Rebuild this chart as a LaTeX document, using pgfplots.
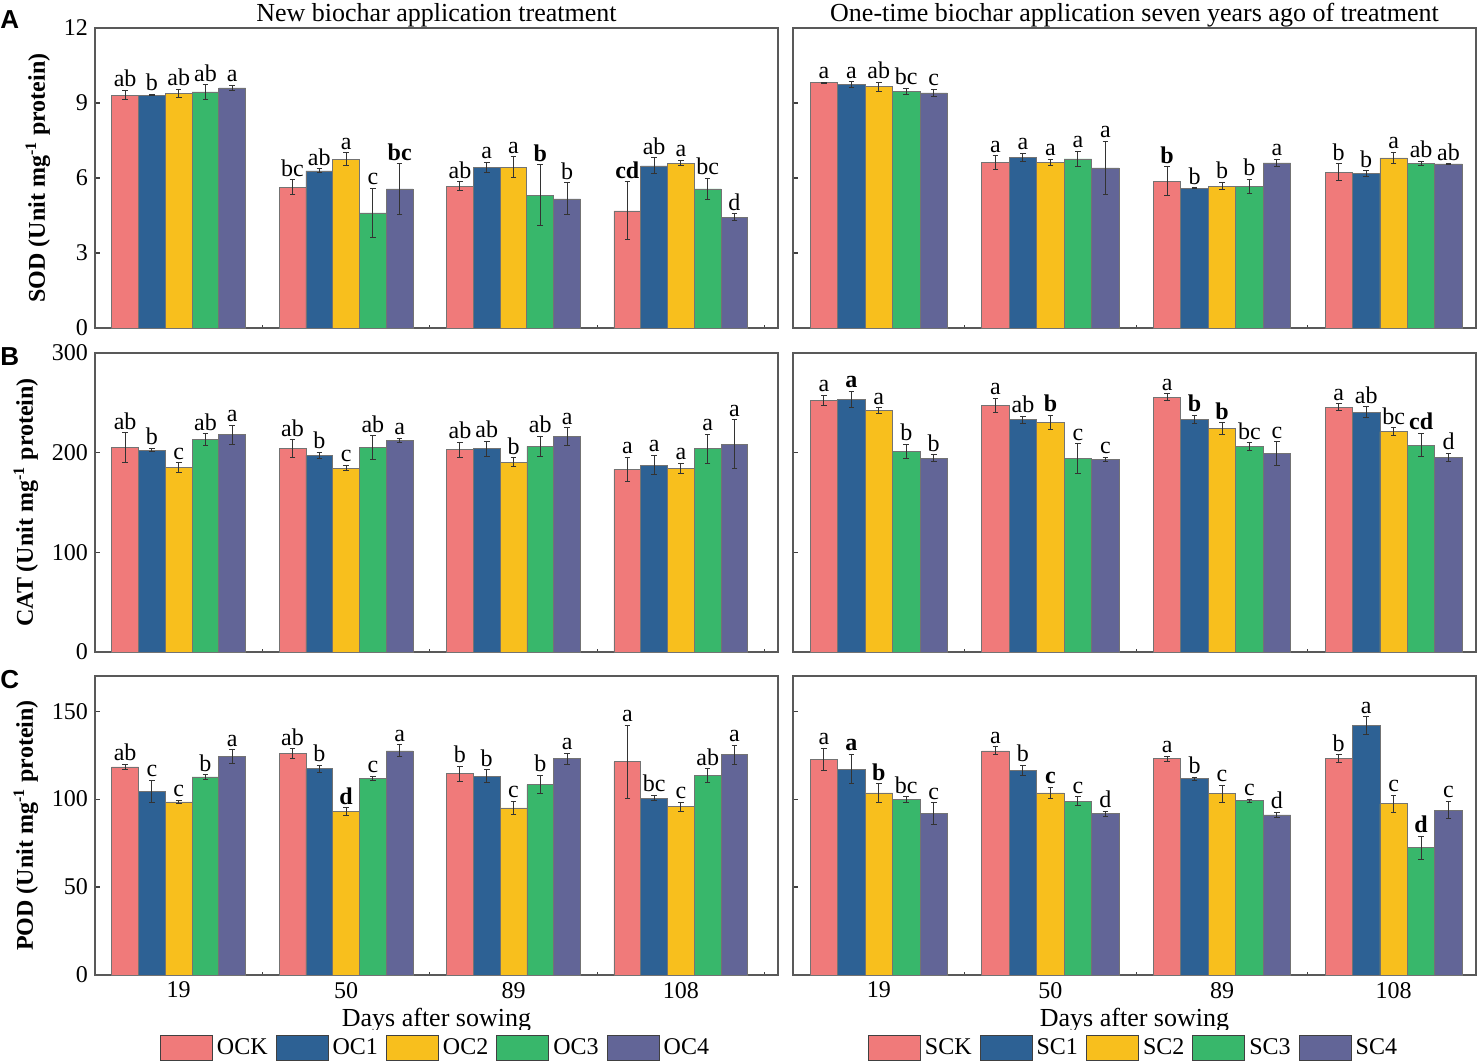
\documentclass[border=0pt]{standalone}
\usepackage{fontspec}
\setmainfont{Liberation Serif}
\newfontfamily\panelfont{Liberation Sans}
\usepackage{pgfplots}
\usepackage{pgfplotstable}
\pgfplotsset{compat=1.18}

\definecolor{c0}{RGB}{240,122,122}
\definecolor{c1}{RGB}{45,97,148}
\definecolor{c2}{RGB}{248,191,29}
\definecolor{c3}{RGB}{56,183,107}
\definecolor{c4}{RGB}{98,101,151}

% SOD, new biochar
\pgfplotstableread{
g y0 e0 l0 y1 e1 l1 y2 e2 l2 y3 e3 l3 y4 e4 l4
0 9.31 0.19 ab 9.31 0.03 b 9.37 0.17 ab 9.44 0.29 ab 9.60 0.11 a
1 5.63 0.29 bc 6.28 0.08 ab 6.75 0.25 a 4.60 0.99 c 5.56 1.01 \textbf{bc}
2 5.67 0.17 ab 6.43 0.20 a 6.43 0.42 a 5.31 1.21 \textbf{b} 5.16 0.64 b
3 4.68 1.16 \textbf{cd} 6.48 0.32 ab 6.59 0.11 a 5.56 0.43 bc 4.43 0.13 d
}\tA
% SOD, seven years ago
\pgfplotstableread{
g y0 e0 l0 y1 e1 l1 y2 e2 l2 y3 e3 l3 y4 e4 l4
0 9.81 0.02 a 9.73 0.11 a 9.65 0.18 ab 9.45 0.13 bc 9.40 0.14 c
1 6.61 0.27 a 6.83 0.16 a 6.61 0.13 a 6.76 0.30 a 6.40 1.07 a
2 5.87 0.57 \textbf{b} 5.59 0.02 b 5.67 0.15 b 5.65 0.29 b 6.60 0.14 a
3 6.23 0.34 b 6.17 0.11 b 6.80 0.23 a 6.59 0.08 ab 6.56 0.01 ab
}\tB
% CAT, new biochar
\pgfplotstableread{
g y0 e0 l0 y1 e1 l1 y2 e2 l2 y3 e3 l3 y4 e4 l4
0 205.2 14.7 ab 202.5 1.7 b 185.2 4.7 c 213.2 5.8 ab 217.9 9.7 a
1 204.2 8.7 ab 197.2 3.3 b 184.5 2.7 c 205.2 11.7 ab 212.2 2.3 a
2 202.9 7.7 ab 203.9 7.7 ab 190.5 4.5 b 206.2 10.0 ab 216.2 8.7 a
3 183.2 12.2 a 187.5 9.7 a 184.2 5.2 a 203.9 14.7 a 208.5 24.5 a
}\tC
% CAT, seven years ago
\pgfplotstableread{
g y0 e0 l0 y1 e1 l1 y2 e2 l2 y3 e3 l3 y4 e4 l4
0 252.3 5.3 a 253.3 8.2 \textbf{a} 242.2 2.8 a 201.2 7.0 b 194.2 3.5 b
1 247.2 7.2 a 233.2 3.5 ab 230.2 7.0 \textbf{b} 194.2 14.7 c 193.2 2.3 c
2 255.6 3.5 a 233.2 4.0 \textbf{b} 224.2 5.8 \textbf{b} 206.2 3.7 bc 199.2 11.7 c
3 245.6 3.5 a 240.6 5.3 ab 221.2 3.7 bc 207.5 11.7 \textbf{cd} 195.2 4.2 d
}\tD
% POD, new biochar
\pgfplotstableread{
g y0 e0 l0 y1 e1 l1 y2 e2 l2 y3 e3 l3 y4 e4 l4
0 118.3 1.5 ab 104.3 6.5 c 98.4 0.9 c 112.6 1.3 b 124.2 3.9 a
1 125.9 2.7 ab 117.2 1.9 b 92.9 2.1 \textbf{d} 111.9 1.1 c 127.4 3.4 a
2 114.4 4.3 b 113.0 3.7 b 95.0 3.6 c 108.3 5.1 b 122.9 3.2 a
3 121.2 20.7 a 100.5 1.5 bc 95.6 2.5 c 113.2 4.0 ab 125.2 5.4 a
}\tE
% POD, seven years ago
\pgfplotstableread{
g y0 e0 l0 y1 e1 l1 y2 e2 l2 y3 e3 l3 y4 e4 l4
0 122.5 6.2 a 117.0 8.4 \textbf{a} 103.5 5.2 \textbf{b} 99.6 1.7 bc 91.6 6.2 c
1 127.4 2.3 a 116.3 2.8 b 103.5 3.1 \textbf{c} 98.8 2.5 c 91.6 1.6 d
2 122.9 1.6 a 111.5 1.0 b 103.0 5.0 c 99.0 0.9 c 91.0 1.6 d
3 122.9 2.3 b 141.7 5.0 a 97.3 4.7 c 72.3 6.5 \textbf{d} 93.7 4.9 c
}\tF

\pgfplotsset{
  boxlegend/.style={legend image code/.code={%
    \draw[fill=#1,draw=black!75,line width=0.5pt] (0pt,-6.25pt) rectangle (26pt,6.25pt);}},
  panel/.style={
    scale only axis, width=341.5pt, anchor=south west,
    xmin=-0.5, xmax=3.58, ymin=0, clip=false,
    axis line style={black!65,line width=0.65pt},
    xtick={0,1,2,3}, xticklabels={19,50,89,108},
    major x tick style={draw=none},
    minor xtick={-0.5,0.5,1.5,2.5,3.5},
    tick align=inside, tick pos=left,
    major tick length=2.5pt, minor tick length=1.5pt,
    tick style={black!75,line width=0.6pt},
    tick label style={font=\fontsize{12}{12}\selectfont},
    /pgf/number format/assume math mode=true,
    ylabel style={font=\bfseries\fontsize{12}{12}\selectfont},
    xlabel style={font=\fontsize{13}{13}\selectfont, yshift=2pt},
    title style={font=\fontsize{13}{13}\selectfont, anchor=south, yshift=-9pt},
    legend style={at={(0.5,0)}, anchor=north, yshift=-27.5pt, draw=none,
      font=\fontsize{12}{12}\selectfont, legend columns=5,
      /tikz/every even column/.append style={column sep=2pt}},
  },
}

\newcommand\barset[2]{%
  \addplot[ybar, bar width=0.16, bar shift=0pt, fill=c#2, draw=black!55,
    line width=0.4pt, boxlegend=c#2,
    error bars/.cd, y dir=both, y explicit,
    error bar style={black!80,line width=0.5pt},
    error mark options={rotate=90,mark size=1.4pt,line width=0.5pt,black!80}]
    table[x expr=\thisrow{g}+(#2-2)*0.16, y=y#2, y error=e#2] {#1};
  \addplot[forget plot, draw=none, nodes near coords, point meta=explicit symbolic,
    nodes near coords style={font=\fontsize{12}{12}\selectfont, anchor=south, inner sep=1.5pt, text=black}]
    table[x expr=\thisrow{g}+(#2-2)*0.16, y expr=\thisrow{y#2}+\thisrow{e#2}, meta=l#2] {#1};
}
\newcommand\allbars[1]{\barset{#1}{0}\barset{#1}{1}\barset{#1}{2}\barset{#1}{3}\barset{#1}{4}}

\begin{document}
\begin{tikzpicture}
\useasboundingbox (0,0) rectangle (739pt,531.5pt);

% row 1: SOD
\begin{axis}[panel, at={(47.5pt,367.5pt)}, height=150pt, ymax=12, ytick={0,3,6,9,12},
  xticklabels={}, ylabel={SOD (Unit mg\textsuperscript{-1} protein)},
  title={New biochar application treatment}]
\allbars{\tA}
\end{axis}
\begin{axis}[panel, at={(396.5pt,367.5pt)}, height=150pt, xmax=3.48, ymax=12, ytick={0,3,6,9,12},
  xticklabels={}, yticklabels={},
  title={One-time biochar application seven years ago of treatment}]
\allbars{\tB}
\end{axis}

% row 2: CAT
\begin{axis}[panel, at={(47.5pt,205.5pt)}, height=149.5pt, ymax=300, ytick={0,100,200,300},
  xticklabels={}, ylabel={CAT (Unit mg\textsuperscript{-1} protein)}]
\allbars{\tC}
\end{axis}
\begin{axis}[panel, at={(396.5pt,205.5pt)}, height=149.5pt, xmax=3.48, ymax=300, ytick={0,100,200,300},
  xticklabels={}, yticklabels={}]
\allbars{\tD}
\end{axis}

% row 3: POD
\begin{axis}[panel, at={(47.5pt,44pt)}, height=149.5pt, ymax=170, ytick={0,50,100,150},
  ylabel={POD (Unit mg\textsuperscript{-1} protein)}, xlabel={Days after sowing}]
\allbars{\tE}
\legend{OCK,OC1,OC2,OC3,OC4}
\end{axis}
\begin{axis}[panel, at={(396.5pt,44pt)}, height=149.5pt, xmax=3.48, ymax=170, ytick={0,50,100,150},
  yticklabels={}, xlabel={Days after sowing}]
\allbars{\tF}
\legend{SCK,SC1,SC2,SC3,SC4}
\end{axis}

\node[anchor=north west, inner sep=0pt, font=\panelfont\bfseries\fontsize{13}{13}\selectfont] at (0pt,526.5pt) {A};
\node[anchor=north west, inner sep=0pt, font=\panelfont\bfseries\fontsize{13}{13}\selectfont] at (0pt,358pt) {B};
\node[anchor=north west, inner sep=0pt, font=\panelfont\bfseries\fontsize{13}{13}\selectfont] at (0pt,196.5pt) {C};
\end{tikzpicture}
\end{document}
